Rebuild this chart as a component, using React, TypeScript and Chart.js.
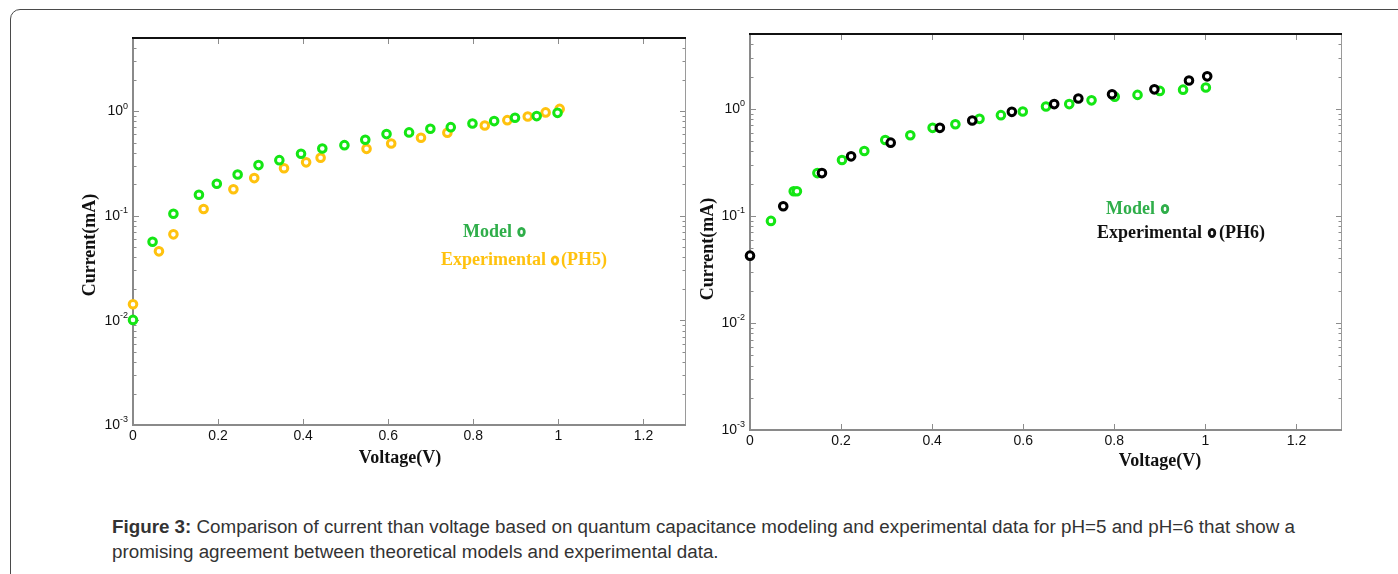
import React, { useEffect, useRef } from 'react';
import { Chart, registerables } from 'chart.js';

Chart.register(...registerables);

// ---------- tick labels / titles ----------
const xTickValues = [0, 0.2, 0.4, 0.6, 0.8, 1, 1.2];
const xTickLabels = ['0', '0.2', '0.4', '0.6', '0.8', '1', '1.2'];
const yDecadeValues = [0.001, 0.01, 0.1, 1];
const yDecadeExponents = ['-3', '-2', '-1', '0'];
const xAxisTitle = 'Voltage(V)';
const yAxisTitle = 'Current(mA)';

// ---------- pH = 5 ----------
const ph5ModelV = [0, 0.046, 0.095, 0.155, 0.197, 0.246, 0.295, 0.344, 0.395, 0.445, 0.497, 0.546, 0.596, 0.649, 0.699, 0.747, 0.798, 0.849, 0.898, 0.949, 0.998];
const ph5ModelI = [0.0101, 0.0565, 0.1045, 0.159, 0.202, 0.248, 0.305, 0.34, 0.391, 0.44, 0.473, 0.532, 0.603, 0.626, 0.678, 0.703, 0.762, 0.803, 0.863, 0.896, 0.963];
const ph5ExpV = [0, 0.061, 0.095, 0.166, 0.236, 0.285, 0.355, 0.407, 0.441, 0.549, 0.607, 0.677, 0.739, 0.827, 0.88, 0.928, 0.97, 1.003];
const ph5ExpI = [0.01425, 0.0457, 0.0664, 0.116, 0.179, 0.229, 0.284, 0.324, 0.358, 0.436, 0.491, 0.556, 0.621, 0.73, 0.82, 0.889, 0.972, 1.05];

// ---------- pH = 6 ----------
const ph6ModelV = [0.046, 0.096, 0.103, 0.148, 0.202, 0.251, 0.297, 0.352, 0.401, 0.451, 0.504, 0.551, 0.599, 0.65, 0.701, 0.75, 0.801, 0.851, 0.9, 0.951, 1.001];
const ph6ModelI = [0.0898, 0.17, 0.17, 0.251, 0.333, 0.404, 0.512, 0.567, 0.664, 0.718, 0.806, 0.873, 0.944, 1.05, 1.107, 1.2, 1.3, 1.35, 1.47, 1.51, 1.58];
const ph6ExpV = [0, 0.073, 0.158, 0.222, 0.309, 0.417, 0.488, 0.575, 0.668, 0.721, 0.795, 0.888, 0.964, 1.004];
const ph6ExpI = [0.0425, 0.123, 0.251, 0.36, 0.483, 0.664, 0.778, 0.937, 1.107, 1.25, 1.37, 1.52, 1.84, 2.01];

const modelLabel = 'Model';
const expLabel = 'Experimental';
const ph5Suffix = '(PH5)';
const ph6Suffix = '(PH6)';

const SANS = '"Liberation Sans", Arial, sans-serif';
const SERIF = '"Liberation Serif", "Times New Roman", serif';

type LegendItem = {
  text: string;
  color: string;
  ringColor: string;
  textX: number;
  ringX: number;
  y: number;
  suffix?: string;
  suffixX?: number;
};

type PanelProps = {
  left: number;
  top: number;
  width: number;
  height: number;
  padding: { left: number; top: number; right: number; bottom: number };
  datasets: { xs: number[]; ys: number[]; color: string; label: string }[];
  legend: LegendItem[];
  xTitle: { x: number; y: number };
  yTitle: { x: number; y: number };
  xLabelOffset: number;
};

function ChartPanel(props: PanelProps) {
  const ref = useRef<HTMLCanvasElement | null>(null);

  useEffect(() => {
    const canvas = ref.current;
    if (!canvas) return;
    const ox = props.left;
    const oy = props.top;

    const decor = {
      id: 'decor',
      beforeDatasetsDraw(chart: any) {
        const { ctx, chartArea: a } = chart;
        const xs = chart.scales.x;
        const ys = chart.scales.y;
        const line = (x1: number, y1: number, x2: number, y2: number) => {
          ctx.beginPath();
          ctx.moveTo(x1, y1);
          ctx.lineTo(x2, y2);
          ctx.stroke();
        };
        ctx.save();
        ctx.strokeStyle = '#8c8c8c';
        ctx.lineWidth = 1;
        // x ticks (inward, top and bottom)
        xTickValues.forEach((v) => {
          const px = Math.round(xs.getPixelForValue(v)) + 0.5;
          line(px, a.bottom, px, a.bottom - 6);
          line(px, a.top, px, a.top + 6);
        });
        // y ticks major + minor
        yDecadeValues.forEach((d) => {
          for (let k = 1; k <= 9; k++) {
            const v = d * k;
            if (v > ys.max) break;
            const py = Math.round(ys.getPixelForValue(v)) + 0.5;
            const len = k === 1 ? 6 : 3.5;
            line(a.left, py, a.left + len, py);
            line(a.right, py, a.right - len, py);
          }
        });
        // frame
        ctx.lineWidth = 1;
        ctx.strokeStyle = '#9a9a9a';
        line(a.right - 0.5, a.top, a.right - 0.5, a.bottom);
        ctx.lineWidth = 2;
        ctx.strokeStyle = '#8a8a8a';
        line(a.left, a.top, a.left, a.bottom + 1);
        line(a.left - 1, a.bottom, a.right, a.bottom);
        ctx.strokeStyle = '#111';
        line(a.left - 1, a.top, a.right, a.top);
        ctx.restore();
      },
      afterDraw(chart: any) {
        const { ctx, chartArea: a } = chart;
        const xs = chart.scales.x;
        const ys = chart.scales.y;
        ctx.save();
        ctx.fillStyle = '#111';
        // x tick labels
        ctx.font = `14px ${SANS}`;
        ctx.textAlign = 'center';
        ctx.textBaseline = 'middle';
        xTickValues.forEach((v, i) => {
          ctx.fillText(xTickLabels[i], xs.getPixelForValue(v), a.bottom + props.xLabelOffset);
        });
        // y tick labels with superscripts
        yDecadeValues.forEach((v, i) => {
          const py = ys.getPixelForValue(v);
          ctx.font = `9px ${SANS}`;
          const ew = ctx.measureText(yDecadeExponents[i]).width;
          ctx.textAlign = 'right';
          ctx.textBaseline = 'middle';
          const right = a.left - 5;
          ctx.fillText(yDecadeExponents[i], right, py - 5);
          ctx.font = `14px ${SANS}`;
          ctx.fillText('10', right - ew, py + 0.5);
        });
        // axis titles
        ctx.font = `bold 18px ${SERIF}`;
        ctx.textAlign = 'center';
        ctx.textBaseline = 'middle';
        ctx.fillText(xAxisTitle, props.xTitle.x - ox, props.xTitle.y - oy);
        ctx.save();
        ctx.translate(props.yTitle.x - ox, props.yTitle.y - oy);
        ctx.rotate(-Math.PI / 2);
        ctx.fillText(yAxisTitle, 0, 0);
        ctx.restore();
        // legend
        ctx.font = `bold 18px ${SERIF}`;
        ctx.textAlign = 'left';
        props.legend.forEach((it) => {
          ctx.fillStyle = it.color;
          ctx.fillText(it.text, it.textX - ox, it.y - oy);
          ctx.beginPath();
          ctx.strokeStyle = it.ringColor;
          ctx.lineWidth = 2.8;
          ctx.ellipse(it.ringX - ox, it.y - oy, 2.8, 3.6, 0, 0, Math.PI * 2);
          ctx.stroke();
          if (it.suffix && it.suffixX !== undefined) {
            ctx.fillText(it.suffix, it.suffixX - ox, it.y - oy);
          }
        });
        ctx.restore();
      },
    };

    const chart = new Chart(canvas, {
      type: 'scatter',
      data: {
        datasets: props.datasets.map((d) => ({
          label: d.label,
          data: d.xs.map((x, i) => ({ x, y: d.ys[i] })),
          pointRadius: 3.8,
          pointBorderWidth: 3,
          pointBackgroundColor: '#ffffff',
          pointBorderColor: d.color,
          showLine: false,
          clip: false as any,
        })),
      },
      options: {
        animation: false,
        responsive: false,
        maintainAspectRatio: false,
        events: [],
        layout: { padding: props.padding },
        plugins: { legend: { display: false }, tooltip: { enabled: false } },
        scales: {
          x: { type: 'linear', min: 0, max: 1.3, display: false },
          y: { type: 'logarithmic', min: 0.001, max: 5, display: false },
        },
      },
      plugins: [decor],
    });
    return () => chart.destroy();
  }, []);

  return (
    <canvas
      ref={ref}
      width={props.width}
      height={props.height}
      style={{ position: 'absolute', left: props.left, top: props.top, width: props.width, height: props.height }}
    />
  );
}

export default function App() {
  const green = '#14e614';
  const orange = '#ffc20e';
  const legendGreen = '#2fae4a';
  return (
    <div style={{ position: 'fixed', left: 0, top: 0, width: 1398, height: 574, background: '#fff', overflow: 'hidden' }}>
      <div
        style={{
          position: 'absolute',
          left: 10,
          top: 9,
          width: 1420,
          height: 620,
          border: '1px solid #4a4a4a',
          borderRadius: 10,
          boxSizing: 'border-box',
        }}
      />
      <ChartPanel
        left={60}
        top={20}
        width={640}
        height={460}
        padding={{ left: 73, top: 18, right: 14, bottom: 55 }}
        datasets={[
          { xs: ph5ModelV, ys: ph5ModelI, color: green, label: modelLabel },
          { xs: ph5ExpV, ys: ph5ExpI, color: orange, label: expLabel },
        ]}
        legend={[
          { text: modelLabel, color: legendGreen, ringColor: legendGreen, textX: 463, ringX: 521.5, y: 232 },
          { text: expLabel, color: orange, ringColor: orange, textX: 441, ringX: 555, y: 260.5, suffix: ph5Suffix, suffixX: 561 },
        ]}
        xTitle={{ x: 400, y: 458 }}
        yTitle={{ x: 90.5, y: 245 }}
        xLabelOffset={11.5}
      />
      <ChartPanel
        left={690}
        top={20}
        width={700}
        height={460}
        padding={{ left: 60, top: 14, right: 48, bottom: 50 }}
        datasets={[
          { xs: ph6ExpV, ys: ph6ExpI, color: '#000000', label: expLabel },
          { xs: ph6ModelV, ys: ph6ModelI, color: green, label: modelLabel },
        ]}
        legend={[
          { text: modelLabel, color: legendGreen, ringColor: legendGreen, textX: 1106, ringX: 1165, y: 209 },
          { text: expLabel, color: '#111', ringColor: '#111', textX: 1097, ringX: 1212, y: 233, suffix: ph6Suffix, suffixX: 1219 },
        ]}
        xTitle={{ x: 1160, y: 461 }}
        yTitle={{ x: 708, y: 249 }}
        xLabelOffset={11}
      />
      <div
        style={{
          position: 'absolute',
          left: 112,
          top: 514,
          fontFamily: SANS,
          fontSize: 18.8,
          lineHeight: '25px',
          color: '#333',
          whiteSpace: 'nowrap',
        }}
      >
        <b>Figure 3:</b> Comparison of current than voltage based on quantum capacitance modeling and experimental data for pH=5 and pH=6 that show a
        <br />
        promising agreement between theoretical models and experimental data.
      </div>
    </div>
  );
}
